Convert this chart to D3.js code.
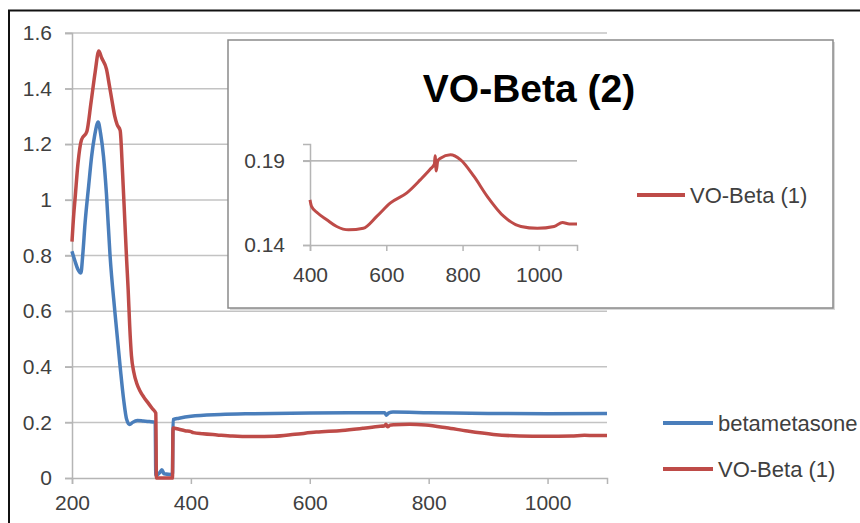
<!DOCTYPE html>
<html>
<head>
<meta charset="utf-8">
<script src="https://cdn.jsdelivr.net/npm/d3@7"></script>
<style>
  body { margin: 0; background: #fff; }
  svg text { font-family: "Liberation Sans", Arial, sans-serif; fill: #404040; }
</style>
</head>
<body>
<div id="chart"></div>
<script>
/******************************************************************************/
/*  Data                                                                      */
/******************************************************************************/

// [wavelength, absorbance]
var betametasone = [
  [200,0.815],[205,0.78],[210,0.75],[215,0.737],[218,0.8],[222,0.917],[228,1.05],
  [233,1.156],[238,1.23],[244,1.28],[248,1.24],[253,1.156],[258,1.02],[264,0.8],
  [272,0.6],[281,0.4],[287,0.28],[292,0.21],[297,0.192],[302,0.2],[310,0.207],
  [320,0.205],[330,0.203],[340,0.2],[341,0.01],[348,0.02],[351,0.03],[355,0.015],
  [369,0.012],[370,0.21],[380,0.215],[400,0.222],[450,0.228],[500,0.231],[600,0.234],
  [700,0.235],[726,0.235],[729,0.226],[733,0.234],[740,0.237],[800,0.235],[900,0.232],
  [1000,0.231],[1100,0.232]
];

var voBeta = [
  [200,0.85],[203,0.95],[205,1.0],[210,1.13],[216,1.216],[225,1.246],[232,1.35],
  [239,1.46],[245,1.535],[250,1.51],[258,1.47],[263,1.41],[267,1.36],[272,1.3],
  [276,1.27],[281,1.25],[285,1.1],[289,0.917],[292,0.78],[294.5,0.676],[297,0.55],
  [300,0.44],[304,0.38],[309,0.34],[314,0.315],[321,0.29],[328,0.27],[335,0.25],
  [341,0.233],[342,0.0],[369,0.0],[370,0.18],[380,0.175],[390,0.17],[400,0.1668],
  [404,0.163],[420,0.159],[444,0.155],[470,0.151],[501,0.149],[540,0.150],[575,0.157],
  [611,0.165],[654,0.171],[689,0.1787],[715,0.185],[726,0.188],[728,0.193],[731,0.184],
  [735,0.190],[742,0.1916],[768,0.1936],[795,0.1906],[830,0.1807],[865,0.1688],
  [909,0.1568],[953,0.151],[996,0.1499],[1040,0.151],[1062,0.1533],[1080,0.1525],
  [1100,0.1525]
];

var seriesNames = ['betametasone', 'VO-Beta (1)'];
var seriesColors = ['#4a7ebb', '#be4b48'];

var xTicks = [200, 400, 600, 800, 1000];
var yTicks = [0, 0.2, 0.4, 0.6, 0.8, 1, 1.2, 1.4, 1.6];
var insetXTicks = [400, 600, 800, 1000];
var insetYTicks = [0.14, 0.19];
var insetTitle = 'VO-Beta (2)';


/******************************************************************************/
/*  Main chart                                                                */
/******************************************************************************/

var W = 860, H = 523;
var svg = d3.select('#chart')
  .append('svg')
    .attr('width', W)
    .attr('height', H);

// Outer frame (only left and top visible)
svg.append('path')
  .attr('d', 'M9,' + H + 'V10.5H' + W)
  .attr('fill', 'none')
  .attr('stroke', '#111')
  .attr('stroke-width', 2);

var x = d3.scaleLinear().domain([200, 1100]).range([72, 607]);
var y = d3.scaleLinear().domain([0, 1.6]).range([478, 33]);

// Gridlines
svg.append('g')
  .selectAll('line').data(yTicks.filter(function(d){ return d > 0; }))
  .enter().append('line')
    .attr('x1', 65).attr('x2', 607)
    .attr('y1', function(d){ return y(d); })
    .attr('y2', function(d){ return y(d); })
    .attr('stroke', '#c3c3c3')
    .attr('stroke-width', 1.5);

// Axes
var yAxis = svg.append('g')
    .attr('transform', 'translate(72,0)')
    .call(d3.axisLeft(y).tickValues(yTicks).tickSize(7).tickFormat(d3.format('')));
var xAxis = svg.append('g')
    .attr('transform', 'translate(0,478)')
    .call(d3.axisBottom(x).tickValues(xTicks).tickSize(6).tickFormat(d3.format('d')));

function styleAxis(a){
  a.select('.domain').attr('stroke', '#b5b5b5').attr('stroke-width', 1.5);
  a.selectAll('.tick line').attr('stroke', '#b5b5b5').attr('stroke-width', 1.5);
  a.selectAll('text').attr('font-size', 21).attr('fill', '#404040')
    .style('font-family', '"Liberation Sans", Arial, sans-serif');
}
styleAxis(yAxis);
styleAxis(xAxis);
yAxis.selectAll('text').attr('x', -20);
xAxis.selectAll('text').attr('y', 17);

// Lines
var line = d3.line()
  .curve(d3.curveMonotoneX)
  .x(function(d){ return x(d[0]); })
  .y(function(d){ return y(d[1]); });

svg.selectAll('.series').data([betametasone, voBeta])
  .enter().append('path')
    .attr('class', 'series')
    .attr('d', line)
    .attr('fill', 'none')
    .attr('stroke', function(d, i){ return seriesColors[i]; })
    .attr('stroke-width', 3.5)
    .attr('stroke-linejoin', 'round');

// Legend
var legend = svg.selectAll('.legend').data(seriesNames)
  .enter().append('g')
    .attr('class', 'legend')
    .attr('transform', function(d, i){ return 'translate(663,' + (423 + i * 46) + ')'; });
legend.append('line')
  .attr('x1', 0).attr('x2', 50)
  .attr('stroke', function(d, i){ return seriesColors[i]; })
  .attr('stroke-width', 4);
legend.append('text')
  .attr('x', 55).attr('dy', '0.35em')
  .attr('font-size', 22)
  .text(function(d){ return d; });


/******************************************************************************/
/*  Inset chart                                                               */
/******************************************************************************/

var inset = svg.append('g');

inset.append('rect')
  .attr('x', 230).attr('y', 42).attr('width', 605).attr('height', 268)
  .attr('fill', '#d8d8d8');
inset.append('rect')
  .attr('x', 228).attr('y', 40).attr('width', 605).attr('height', 268)
  .attr('fill', '#fff')
  .attr('stroke', '#8a8a8a')
  .attr('stroke-width', 1.5);

inset.append('text')
  .attr('x', 529).attr('y', 102)
  .attr('text-anchor', 'middle')
  .attr('font-size', 39)
  .attr('font-weight', 'bold')
  .style('fill', '#000')
  .text(insetTitle);

var ix = d3.scaleLinear().domain([400, 1100]).range([310, 577]);
var iy = d3.scaleLinear().domain([0.14, 0.2]).range([245, 144]);

inset.append('line')
  .attr('x1', 303).attr('x2', 577)
  .attr('y1', iy(0.19)).attr('y2', iy(0.19))
  .attr('stroke', '#a0a0a0')
  .attr('stroke-width', 1.2);

var iyAxis = inset.append('g')
    .attr('transform', 'translate(310,0)')
    .call(d3.axisLeft(iy).tickValues(insetYTicks).tickSize(7).tickFormat(d3.format('.2f')));
var ixAxis = inset.append('g')
    .attr('transform', 'translate(0,245)')
    .call(d3.axisBottom(ix).tickValues(insetXTicks).tickSize(6).tickFormat(d3.format('d')));

styleAxis(iyAxis);
styleAxis(ixAxis);
iyAxis.selectAll('text').attr('x', -25);
ixAxis.selectAll('text').attr('y', 22);

var iline = d3.line()
  .curve(d3.curveMonotoneX)
  .x(function(d){ return ix(d[0]); })
  .y(function(d){ return iy(d[1]); });

inset.append('path')
  .datum(voBeta.filter(function(d){ return d[0] >= 400; }))
  .attr('d', iline)
  .attr('fill', 'none')
  .attr('stroke', seriesColors[1])
  .attr('stroke-width', 3)
  .attr('stroke-linejoin', 'round');

// Inset legend
var ilegend = inset.append('g').attr('transform', 'translate(637,195)');
ilegend.append('line')
  .attr('x1', 0).attr('x2', 48)
  .attr('stroke', seriesColors[1])
  .attr('stroke-width', 4);
ilegend.append('text')
  .attr('x', 53).attr('dy', '0.35em')
  .attr('font-size', 22)
  .text(seriesNames[1]);
</script>
</body>
</html>
